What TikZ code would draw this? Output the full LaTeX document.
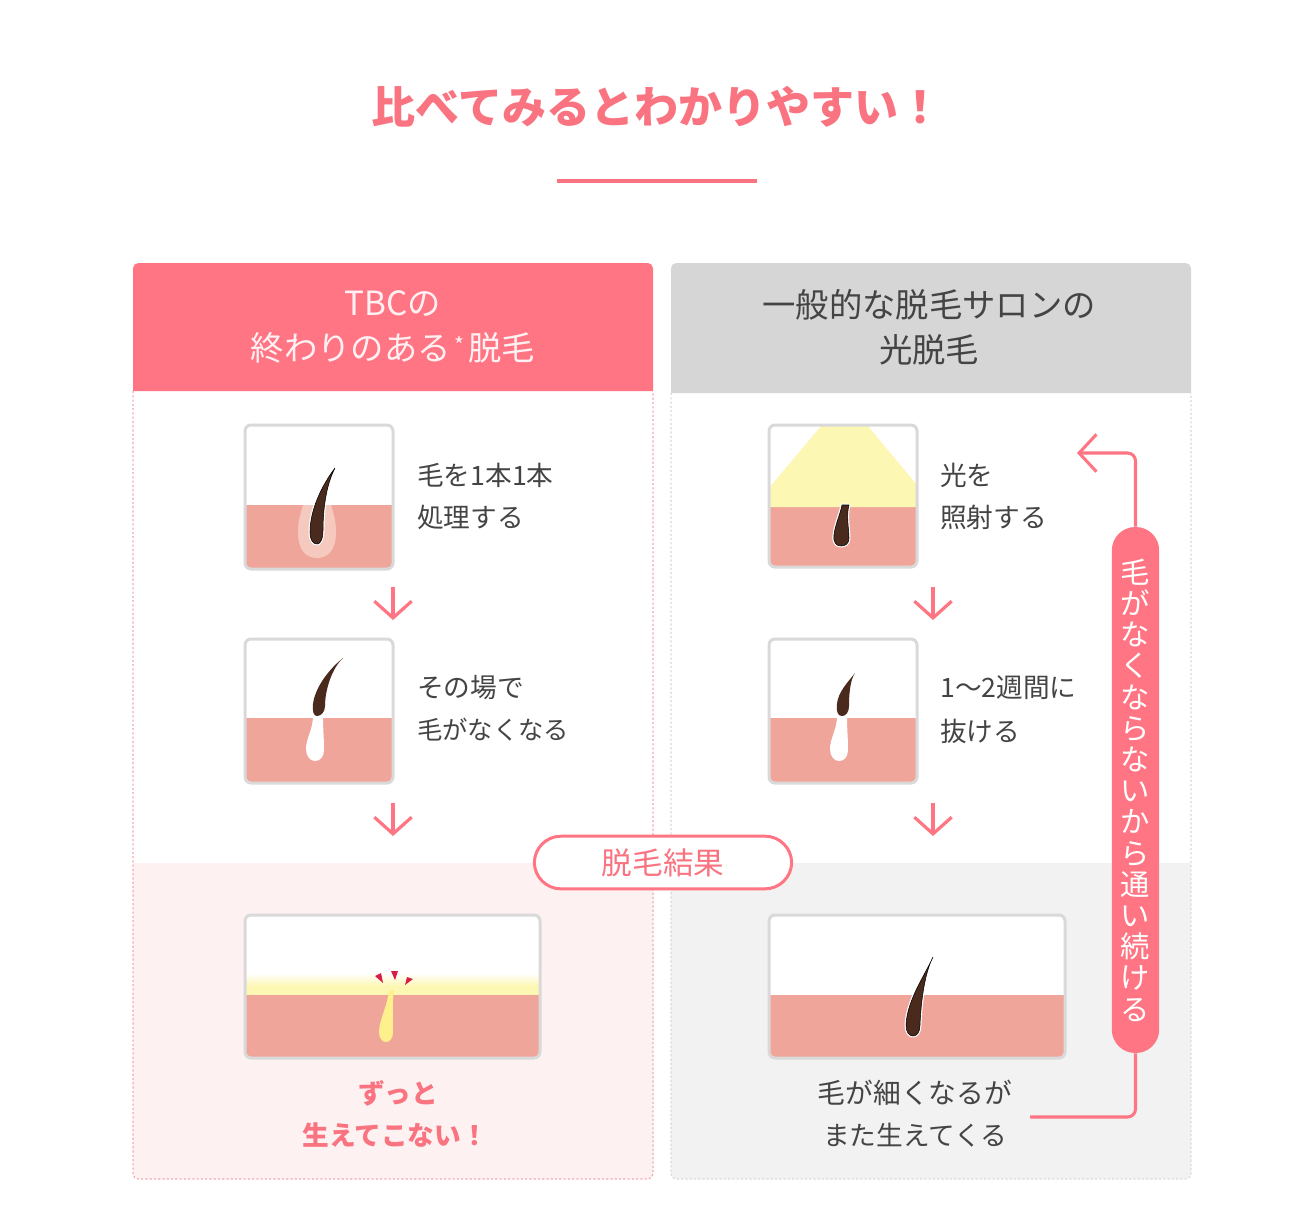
\documentclass[tikz,border=0pt]{standalone}
\usepackage{fontspec}
\setmainfont{Noto Sans CJK JP}
\usetikzlibrary{arrows.meta}
\definecolor{pinkc}{HTML}{FF7583}
\definecolor{titlec}{HTML}{F97480}
\definecolor{skinc}{HTML}{F0A59A}
\definecolor{halob}{HTML}{F6C9BE}
\definecolor{framec}{HTML}{D9D9D9}
\definecolor{yellowc}{HTML}{FDF7B4}
\definecolor{yellowh}{HTML}{FEF08C}
\definecolor{hairc}{HTML}{4A2A1C}
\definecolor{inkc}{HTML}{444444}
\definecolor{headgray}{HTML}{D6D6D6}
\definecolor{softpink}{HTML}{FDF1F1}
\definecolor{softgray}{HTML}{F2F2F2}
\definecolor{dotpink}{HTML}{F5A9B4}
\definecolor{dotgray}{HTML}{DADADA}
\definecolor{redc}{HTML}{D81E48}
\tikzset{
  frame/.style={draw=framec,line width=2.25pt,rounded corners=4.5pt},
  hair/.style={fill=hairc,preaction={draw=white,line width=2.2pt,line join=round}},
  hairnoline/.style={fill=hairc},
  follicle/.style={fill=white},
  bodytext/.style={inner sep=0pt,anchor=west,text=inkc,font=\fontsize{20}{24}\selectfont},
  outcome/.style={inner sep=0pt,anchor=center,font=\fontsize{20}{24}\selectfont},
  headtext/.style={inner sep=0pt,anchor=center,font=\fontsize{25}{29}\selectfont},
  flow/.style={draw=pinkc,line width=2.4pt,-{Straight Barb[length=12.5pt,width=28pt,line width=2.4pt]}},
  link/.style={draw=pinkc,line width=2.3pt,rounded corners=6pt},
  blank/.style={inner sep=0pt,minimum size=0pt},
}
% x1 y1 x2 y2 skin-top
\newcommand{\imgbox}[6]{%
  \node[blank,minimum width=#3*0.75pt-#1*0.75pt,minimum height=#4*0.75pt-#2*0.75pt] (#6) at ({(#1+#3)/2},{(#2+#4)/2}) {};
  \begin{scope}
    \clip[rounded corners=4.5pt] (#1,#2) rectangle (#3,#4);
    \fill[white] (#1,#2) rectangle (#3,#4);
    \fill[skinc] (#1,#5) rectangle (#3,#4);
  \end{scope}
}
\newcommand{\imgframe}[4]{\draw[frame] (#1,#2) rectangle (#3,#4);}
\begin{document}
\begin{tikzpicture}[x=0.75pt,y=-0.75pt]
\useasboundingbox (0,0) rectangle (1316,1218);
\fill[white] (0,0) rectangle (1316,1218);

% title
\node[inner sep=0pt,text=titlec,font=\fontsize{33}{36}\selectfont\bfseries] (title) at (657,107) {比べてみるとわかりやすい！};
\fill[titlec] (557,179) rectangle (757,183);

% columns: lower tints
\fill[softpink,rounded corners=4pt] (133,863) [sharp corners] -- (653,863) [rounded corners=4pt] -- (653,1179) -- (133,1179) [sharp corners] -- cycle;
\fill[softgray,rounded corners=4pt] (671,863) [sharp corners] -- (1191,863) [rounded corners=4pt] -- (1191,1179) -- (671,1179) [sharp corners] -- cycle;
% dotted borders
\draw[dotpink,line width=0.9pt,dash pattern=on 1.6pt off 1.6pt,rounded corners=4pt] (133,391) -- (133,1179) -- (653,1179) -- (653,391);
\draw[dotgray,line width=0.9pt,dash pattern=on 1.6pt off 1.6pt,rounded corners=4pt] (671,393) -- (671,1179) -- (1191,1179) -- (1191,393);
% headers
\fill[pinkc] (133,391) [rounded corners=4pt] -- (133,263) -- (653,263) [sharp corners] -- (653,391) -- cycle;
\fill[headgray] (671,393) [rounded corners=4pt] -- (671,263) -- (1191,263) [sharp corners] -- (1191,393) -- cycle;
\node[headtext,text=white!90!pinkc] (lh1) at (393,304) {TBCの};
\node[headtext,text=white!90!pinkc] (lh2) at (393,348) {終わりのある\hspace{3pt}\raisebox{5pt}{\fontsize{16}{16}\selectfont *}\hspace{3pt}脱毛};
\node[headtext,text=inkc] (rh1) at (929,305) {一般的な脱毛サロンの};
\node[headtext,text=inkc] (rh2) at (929,350) {光脱毛};

% ---- left 1
\imgbox{245}{425}{393}{569}{505}{la}
\fill[halob] (303,505) .. controls (300,515) and (298,522) .. (298,532) .. controls (298,550) and (306,558) .. (317,558) .. controls (328,558) and (336,550) .. (336,532) .. controls (336,522) and (334,515) .. (331,505) -- cycle;
\draw[hair] (335,468) .. controls (326,485) and (323,510) .. (323,530) .. controls (323,540) and (320,544) .. (317,544) .. controls (313,544) and (310,540) .. (310,532) .. controls (310,510) and (322,485) .. cycle;
\imgframe{245}{425}{393}{569}
% ---- left 2
\imgbox{245}{639}{393}{783}{718}{lb}
\fill[follicle] (313,716) -- (323,716) .. controls (323,730) and (324,738) .. (324,750) .. controls (324,757) and (320,761) .. (315,761) .. controls (310,761) and (306,756) .. (306,749) .. controls (306,738) and (313,730) .. (313,716) -- cycle;
\fill[hairnoline] (343,658) .. controls (332,668) and (325,690) .. (325,706) .. controls (325,712) and (321,716) .. (317,716) .. controls (314,716) and (312,712) .. (313,704) .. controls (315,688) and (328,670) .. cycle;
\imgframe{245}{639}{393}{783}
% ---- left 3
\imgbox{245}{915}{540}{1058}{995}{lc}
\shade[top color=white,bottom color=yellowc] (246,973) rectangle (539,986);
\fill[yellowc] (246,986) rectangle (539,995);
\fill[yellowh] (389,990) -- (394,990) .. controls (392,1005) and (393,1020) .. (393,1032) .. controls (393,1038) and (390,1042) .. (386,1042) .. controls (382,1042) and (379,1038) .. (379,1032) .. controls (379,1020) and (388,1005) .. cycle;
\fill[redc] (375,976) -- (381,973) -- (383,983) -- cycle;
\fill[redc] (391,971) -- (398,971) -- (395,980) -- cycle;
\fill[redc] (407,977) -- (413,979) -- (405,985) -- cycle;
\imgframe{245}{915}{540}{1058}

% ---- right 1
\imgbox{769}{425}{917}{567}{507}{ra}
\fill[yellowc] (822,425) -- (867,425) -- (917,485) -- (917,507) -- (769,507) -- (769,488) -- cycle;
\draw[hair] (842,505) -- (849,505) .. controls (846,515) and (849,530) .. (849,538) .. controls (849,544) and (845,546) .. (841,546) .. controls (836,546) and (833,542) .. (834,535) .. controls (835,525) and (840,515) .. cycle;
\imgframe{769}{425}{917}{567}
% ---- right 2
\imgbox{769}{639}{917}{783}{718}{rb}
\fill[follicle] (837,716) -- (847,716) .. controls (847,730) and (848,738) .. (848,750) .. controls (848,757) and (844,761) .. (839,761) .. controls (834,761) and (830,756) .. (830,749) .. controls (830,738) and (837,730) .. (837,716) -- cycle;
\fill[hairnoline] (855,673) .. controls (850,680) and (849,695) .. (849,706) .. controls (849,712) and (846,716) .. (842,716) .. controls (838,716) and (836,712) .. (837,704) .. controls (838,692) and (848,682) .. cycle;
\imgframe{769}{639}{917}{783}
% ---- right 3
\imgbox{769}{915}{1065}{1058}{995}{rc}
\draw[hair] (933,957) .. controls (925,972) and (921,1000) .. (920,1025) .. controls (920,1032) and (917,1036) .. (913,1036) .. controls (909,1036) and (906,1032) .. (906,1025) .. controls (907,1000) and (925,975) .. cycle;
\imgframe{769}{915}{1065}{1058}

% texts
\node[bodytext] (t1) at (417,475) {毛を1本1本};
\node[bodytext] (t2) at (417,517) {処理する};
\node[bodytext] (t3) at (417,688) {その場で};
\node[bodytext,font=\fontsize{19}{24}\selectfont] (t4) at (417,730) {毛がなくなる};
\node[bodytext] (t5) at (940,475) {光を};
\node[bodytext] (t6) at (940,517) {照射する};
\node[bodytext] (t7) at (940,688) {1〜2週間に};
\node[bodytext] (t8) at (940,731) {抜ける};
\node[outcome,text=titlec,font=\fontsize{20}{24}\selectfont\bfseries] (t9) at (398,1093) {ずっと};
\node[outcome,text=titlec,font=\fontsize{20}{24}\selectfont\bfseries] (t10) at (395,1135) {生えてこない！};
\node[outcome,text=inkc,font=\fontsize{20.8}{24}\selectfont] (t11) at (915,1093) {毛が細くなるが};
\node[outcome,text=inkc] (t12) at (915,1135) {また生えてくる};

% down arrows
\coordinate (a1s) at (393,587); \coordinate (a1e) at (393,620);
\coordinate (a2s) at (393,803); \coordinate (a2e) at (393,836);
\coordinate (a3s) at (933,587); \coordinate (a3e) at (933,620);
\coordinate (a4s) at (933,803); \coordinate (a4e) at (933,836);
\draw[flow] (a1s) -- (a1e);
\draw[flow] (a2s) -- (a2e);
\draw[flow] (a3s) -- (a3e);
\draw[flow] (a4s) -- (a4e);

% result badge
\node[draw=pinkc,fill=white,line width=2.25pt,rounded corners=20pt,minimum width=193pt,minimum height=39.5pt,inner sep=0pt,text=titlec,font=\fontsize{23}{26}\selectfont] (badge) at (663,862.5) {脱毛結果};

% pill
\node[fill=pinkc,rounded corners=17.5pt,minimum width=35.5pt,minimum height=394.5pt,inner sep=0pt,text=white,align=center,font=\fontsize{22}{23.4}\selectfont] (pill) at (1135.5,790) {毛\\が\\な\\く\\な\\ら\\な\\い\\か\\ら\\通\\い\\続\\け\\る};
\coordinate (backtip) at (1077,453);
\coordinate (backstart) at (1030,1117);
\coordinate (c1) at (1135.5,453);
\coordinate (c2) at (1135.5,1117);
\draw[link,-{Straight Barb[length=13pt,width=28pt,line width=2.3pt]}] (pill.north) -- (c1) -- (backtip);
\draw[link] (pill.south) -- (c2) -- (backstart);
\end{tikzpicture}
\end{document}
